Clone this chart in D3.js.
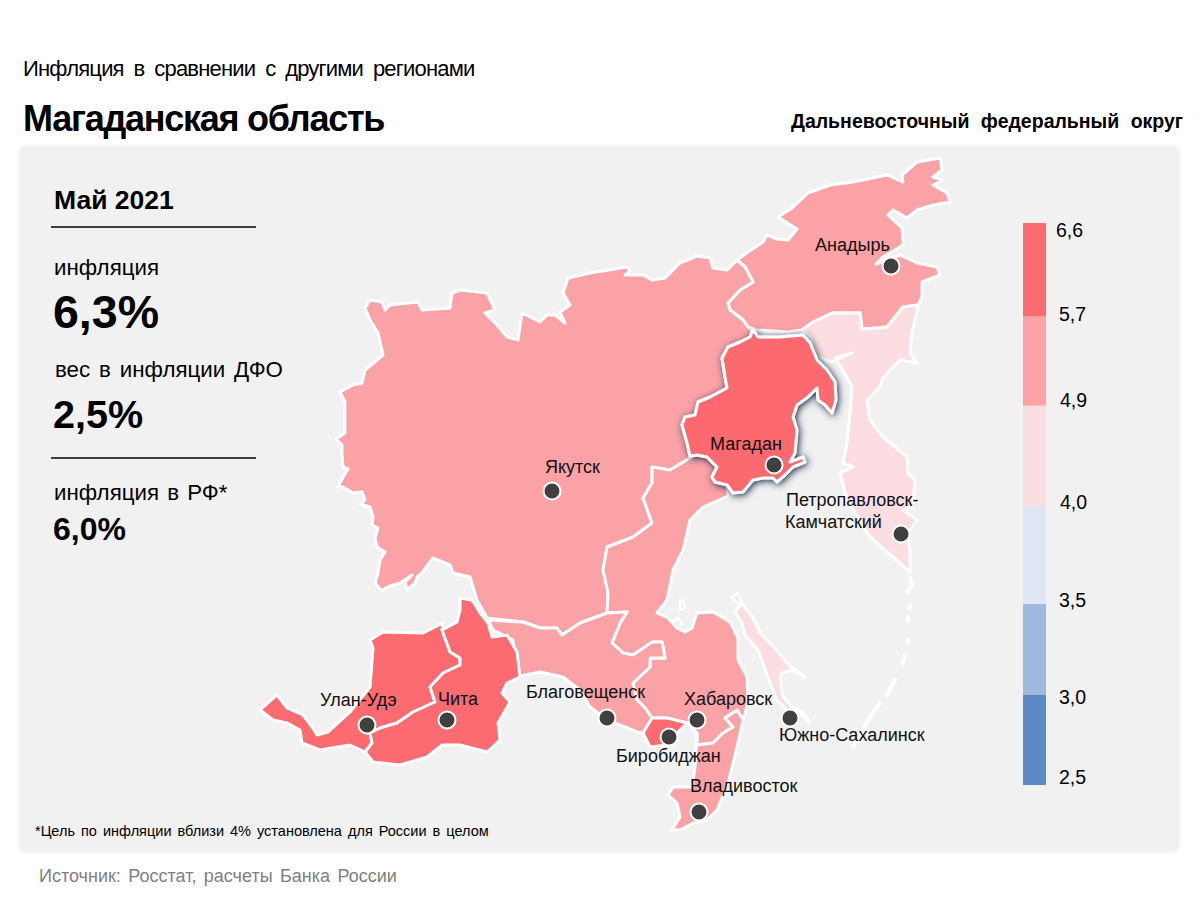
<!DOCTYPE html>
<html lang="ru"><head><meta charset="utf-8">
<script src="https://cdn.jsdelivr.net/npm/d3@7"></script>
<style>
html,body{margin:0;padding:0;background:#fff}
svg{display:block}
text{font-family:"Liberation Sans",Arial,sans-serif;fill:#000}
</style></head><body>
<svg id="c" width="1200" height="900"></svg>
<script>
// Region outlines, in map units
const chukotka=[[737,260],[748,252],[763,242],[767,235],[777,239],[788,240],[797,229],[778,217],[792,208],[808,193],[830,185],[853,182],[887,175],[903,182],[902,175],[917,162],[940,158],[942,170],[933,177],[943,180],[933,185],[947,193],[950,202],[933,205],[917,210],[907,218],[893,210],[888,215],[902,228],[903,245],[883,257],[876,264],[900,255],[917,263],[937,267],[940,275],[922,282],[922,297],[918,305],[903,307],[887,327],[877,328],[862,329],[860,313],[832,313],[813,322],[802,330],[787,332],[757,330],[748,327],[743,320],[730,310],[728,303],[740,290],[753,282],[745,267]];
const sakha=[[365,308],[370,300],[382,302],[385,310],[390,305],[418,302],[422,310],[450,308],[452,293],[460,290],[487,293],[495,310],[485,313],[497,325],[507,337],[518,340],[522,313],[540,322],[547,315],[555,315],[565,323],[560,312],[570,305],[563,293],[568,278],[590,273],[627,267],[630,270],[625,275],[643,275],[652,280],[665,278],[680,263],[697,256],[710,258],[713,268],[727,270],[737,260],[745,267],[753,282],[740,290],[728,303],[730,310],[743,320],[748,327],[752,330],[750,337],[740,342],[728,347],[722,358],[725,377],[727,388],[710,397],[698,402],[695,415],[685,417],[682,425],[687,443],[690,458],[670,470],[652,467],[652,483],[643,498],[652,523],[633,537],[607,547],[603,570],[608,593],[607,613],[580,623],[562,635],[557,628],[540,628],[523,622],[487,618],[477,600],[470,577],[453,573],[450,565],[433,558],[422,573],[417,577],[415,583],[407,590],[405,582],[412,575],[400,583],[387,587],[382,591],[375,583],[378,573],[380,560],[385,552],[377,547],[375,538],[378,528],[372,525],[373,517],[370,507],[360,504],[365,500],[362,492],[353,493],[343,487],[338,487],[343,477],[348,469],[343,467],[342,455],[342,445],[336,439],[345,433],[345,402],[340,392],[353,385],[362,383],[365,370],[383,355],[378,333],[370,320]];
const khabarovsk=[[690,458],[697,455],[707,457],[717,467],[712,477],[715,482],[727,485],[728,496],[703,507],[690,520],[683,550],[673,570],[667,600],[657,613],[668,618],[677,628],[685,632],[692,628],[697,613],[713,612],[730,622],[738,638],[738,660],[747,677],[748,703],[743,720],[737,710],[725,718],[733,727],[723,733],[713,743],[697,745],[697,733],[687,723],[667,718],[652,718],[645,708],[637,700],[633,683],[650,667],[650,658],[665,658],[662,642],[652,642],[633,655],[623,653],[612,643],[620,623],[627,612],[607,613],[608,593],[603,570],[607,547],[633,537],[652,523],[643,498],[652,483],[652,467],[670,470]];
const amur=[[488,620],[523,622],[540,628],[557,628],[562,635],[580,623],[607,613],[627,612],[620,623],[612,643],[623,653],[633,655],[652,642],[662,642],[665,658],[650,658],[650,667],[633,683],[637,700],[645,708],[652,718],[643,733],[637,732],[620,725],[607,720],[590,707],[580,690],[563,677],[540,672],[520,676],[515,657],[513,640],[493,630]];
const jao=[[652,718],[667,718],[687,723],[677,733],[667,745],[650,747],[643,733]];
const primorye=[[697,733],[697,745],[713,743],[723,733],[733,727],[725,718],[737,710],[743,720],[737,747],[728,783],[717,810],[707,820],[693,823],[680,830],[672,830],[680,817],[677,803],[668,795],[673,787],[692,787],[695,767]];
const zabaykalye=[[460,598],[472,600],[480,613],[488,623],[492,637],[507,635],[517,652],[520,677],[507,683],[502,693],[510,702],[498,723],[500,740],[487,752],[460,745],[442,745],[427,757],[400,765],[373,762],[365,752],[372,743],[370,733],[380,728],[397,723],[413,712],[435,702],[430,687],[443,673],[460,665],[460,658],[450,652],[442,630],[457,622],[460,610]];
const buryatia=[[370,640],[383,632],[423,633],[443,623],[442,630],[450,652],[460,658],[460,665],[443,673],[430,687],[435,702],[413,712],[397,723],[380,728],[370,733],[372,743],[365,752],[350,745],[320,750],[302,743],[300,730],[287,723],[273,720],[260,710],[277,695],[287,708],[303,715],[312,727],[317,735],[328,732],[350,712],[370,687],[373,648]];
const magadan=[[753,330],[758,337],[780,337],[803,335],[810,343],[817,360],[827,370],[835,382],[836,400],[832,413],[825,405],[818,400],[817,388],[808,397],[797,405],[793,417],[797,430],[795,453],[790,462],[803,457],[805,462],[793,467],[785,475],[777,482],[773,478],[763,478],[753,480],[743,492],[733,493],[727,485],[715,482],[712,477],[717,467],[707,457],[697,455],[690,456],[687,443],[682,425],[685,417],[695,415],[698,402],[710,397],[727,388],[725,377],[722,358],[728,347],[740,342],[750,337]];
const kamchatka=[[802,330],[813,322],[832,313],[860,313],[862,329],[877,328],[887,327],[903,307],[918,305],[912,333],[910,353],[917,363],[900,360],[883,378],[880,387],[867,400],[870,420],[883,437],[907,457],[908,473],[915,480],[913,507],[903,510],[917,520],[908,533],[910,553],[910,573],[900,563],[870,537],[847,500],[840,473],[853,467],[843,463],[847,443],[850,413],[852,387],[840,365],[835,358],[852,353],[832,362],[818,357],[810,337]];
const sakhalin=[[732,597],[737,593],[743,605],[753,618],[760,633],[770,643],[783,658],[792,668],[805,677],[792,670],[782,673],[780,678],[783,697],[792,707],[803,712],[810,723],[800,713],[787,710],[777,700],[770,683],[758,650],[745,635],[742,623],[735,612],[740,605]];
const shantar=[[680,600],[684,601],[685,608],[680,610]];
const shantarB=[[672,622],[678,618],[682,624],[676,628]];
const kurilA=[[853,747],[862,732],[870,717],[880,703]];
const kurilB=[[887,695],[892,685],[895,680]];
const kurilC=[[903,663],[905,655]];
const kurilD=[[908,642],[908,640]];
const kurilE=[[908,621],[908,617]];
const kurilF=[[909,609],[910,606]];
const kurilG=[[907,592],[912,585],[910,578]];

// Regions and their inflation, May 2021 (estimated from the map colours except Magadan)
const regionNames=["Чукотский АО","Якутия","Хабаровский край","Амурская область","ЕАО","Приморский край","Камчатский край","Сахалинская область","Бурятия","Забайкальский край","Магаданская область"];
const regionRings=[chukotka,sakha,khabarovsk,amur,jao,primorye,kamchatka,sakhalin,buryatia,zabaykalye,magadan];
const regionValues=[5.3,5.4,5.3,5.2,6.0,5.4,4.6,4.4,5.9,6.1,6.3];
const highlighted="Магаданская область";

// Cities
const cityNames=["Анадырь","Якутск","Магадан","Петропавловск-Камчатский","Улан-Удэ","Чита","Благовещенск","Хабаровск","Биробиджан","Владивосток","Южно-Сахалинск"];
const cityX=[891,552,774,901,367,447,607,697,669,699,790];
const cityY=[266,491,465,534,725,720,718,720,737,812,718];
const cityLabelX=[815,545,710,786,320,438,526,684,616,690,779];
const cityLabelY=[251,473,450,506,706,705,698,705,762,792,741];

// Legend
const legendBreaks=[2.5,3.0,3.5,4.0,4.9,5.7,6.6];
const legendTickLabels=["2,5","3,0","3,5","4,0","4,9","5,7","6,6"];
const legendColors=["#5b8ac6","#9db9de","#dfe7f5","#fbdde2","#fba2a6","#fc6b70"];

const svg=d3.select("#c");
const defs=svg.append("defs");
const ps=defs.append("filter").attr("id","panelShadow").attr("x","-2%").attr("y","-2%").attr("width","104%").attr("height","104%");
ps.append("feDropShadow").attr("dx",0).attr("dy",0).attr("stdDeviation",2).attr("flood-color","#000").attr("flood-opacity",.12);
const ms=defs.append("filter").attr("id","magShadow").attr("x","-15%").attr("y","-15%").attr("width","130%").attr("height","130%");
ms.append("feDropShadow").attr("dx",1.5).attr("dy",1.5).attr("stdDeviation",3.5).attr("flood-color","#1f2f45").attr("flood-opacity",1);

svg.append("rect").attr("x",20).attr("y",147).attr("width",1158).attr("height",704).attr("rx",4).attr("fill","#f1f1f1").attr("filter","url(#panelShadow)");

function txt(s,x,y,size,o={}){
  const t=svg.append("text").attr("x",x).attr("y",y).attr("font-size",size).text(s);
  if(o.b)t.attr("font-weight","bold");
  if(o.ls!=null)t.style("letter-spacing",o.ls+"px");
  if(o.ws!=null)t.style("word-spacing",o.ws+"px");
  if(o.c)t.style("fill",o.c);
  return t;
}
txt("Инфляция в сравнении с другими регионами",23,76,22,{ls:-.8,ws:4.5});
txt("Магаданская область",23,131,36,{b:1,ls:-1.26});
txt("Дальневосточный федеральный округ",791,128,19.5,{b:1,ws:6});
txt("Май 2021",54,209,26.5,{b:1});
txt("инфляция",54,275,22.3);
txt("6,3%",53,328,46.5,{b:1});
txt("вес в инфляции ДФО",55,377,22.3,{ws:2.7});
txt("2,5%",53,428,39.5,{b:1});
txt("инфляция в РФ*",54,500,22.3,{ws:2});
txt("6,0%",53,540,32,{b:1});
txt("*Цель по инфляции вблизи 4% установлена для России в целом",35,836,14.5,{ws:2});
txt("Источник: Росстат, расчеты Банка России",39,882,18,{c:"#7f7f7f",ws:2.4});
[227,458].forEach(y=>svg.append("line").attr("x1",51).attr("x2",256).attr("y1",y).attr("y2",y).attr("stroke","#000").attr("stroke-width",1.6));

const color=d3.scaleThreshold().domain(legendBreaks.slice(1,-1)).range(legendColors);
const path=d3.geoPath(d3.geoIdentity());
const feature=r=>({type:"Polygon",coordinates:[[...r,r[0]]]});
const regions=regionNames.map((name,i)=>({name,ring:regionRings[i],value:regionValues[i]}));
const map=svg.append("g");
map.selectAll("path.r").data(regions.filter(d=>d.name!==highlighted)).join("path").attr("class","r")
  .attr("d",d=>path(feature(d.ring))).attr("fill",d=>color(d.value))
  .attr("stroke","#fff").attr("stroke-width",3).attr("stroke-linejoin","round");
map.selectAll("path.i").data([shantar,shantarB]).join("path").attr("class","i")
  .attr("d",d=>path(feature(d))).attr("fill","#f1f1f1").attr("stroke","#fff").attr("stroke-width",2.2);
map.selectAll("path.k").data([kurilA,kurilB,kurilC,kurilD,kurilE,kurilF,kurilG]).join("path").attr("class","k")
  .attr("d",d=>path({type:"LineString",coordinates:d})).attr("fill","none").attr("stroke","#fff").attr("stroke-width",4).attr("stroke-linecap","round");
map.selectAll("path.h").data(regions.filter(d=>d.name===highlighted)).join("path").attr("class","h")
  .attr("d",d=>path(feature(d.ring))).attr("fill",d=>color(d.value))
  .attr("stroke","#fff").attr("stroke-width",3).attr("stroke-linejoin","round").attr("filter","url(#magShadow)");

const cities=cityNames.map((name,i)=>({name,x:cityX[i],y:cityY[i],lx:cityLabelX[i],ly:cityLabelY[i]}));
svg.append("g").selectAll("circle").data(cities).join("circle")
  .attr("cx",d=>d.x).attr("cy",d=>d.y).attr("r",8.5).attr("fill","#404040").attr("stroke","#fff").attr("stroke-width",2);
const labels=svg.append("g").selectAll("text").data(cities).join("text")
  .attr("x",d=>d.lx).attr("y",d=>d.ly).attr("font-size",18).style("fill","#111");
labels.each(function(d){
  const sel=d3.select(this);
  if(d.name.includes("-Камчатский")){
    sel.append("tspan").attr("x",d.lx).text("Петропавловск-");
    sel.append("tspan").attr("x",d.lx-1).attr("dy",22).text("Камчатский");
  } else sel.text(d.name);
});

// Legend through a piecewise scale
const ly=d3.scaleLinear().domain(legendBreaks).range([785,695,604,506.5,405.6,316.5,223]);
const leg=svg.append("g");
leg.selectAll("rect").data(legendColors).join("rect")
  .attr("x",1023).attr("width",23)
  .attr("y",(d,i)=>ly(legendBreaks[i+1])).attr("height",(d,i)=>ly(legendBreaks[i])-ly(legendBreaks[i+1]))
  .attr("fill",d=>d);
const labelOffset=[-8,2,-4,-4,-5,-2,7];
const labelDX=[1059,1059,1059,1060,1060,1059,1056];
leg.selectAll("text").data(legendTickLabels).join("text")
  .attr("x",(d,i)=>labelDX[i]).attr("y",(d,i)=>ly(legendBreaks[i])+labelOffset[i]+6.5)
  .attr("font-size",19.5).text(d=>d);
</script></body></html>
